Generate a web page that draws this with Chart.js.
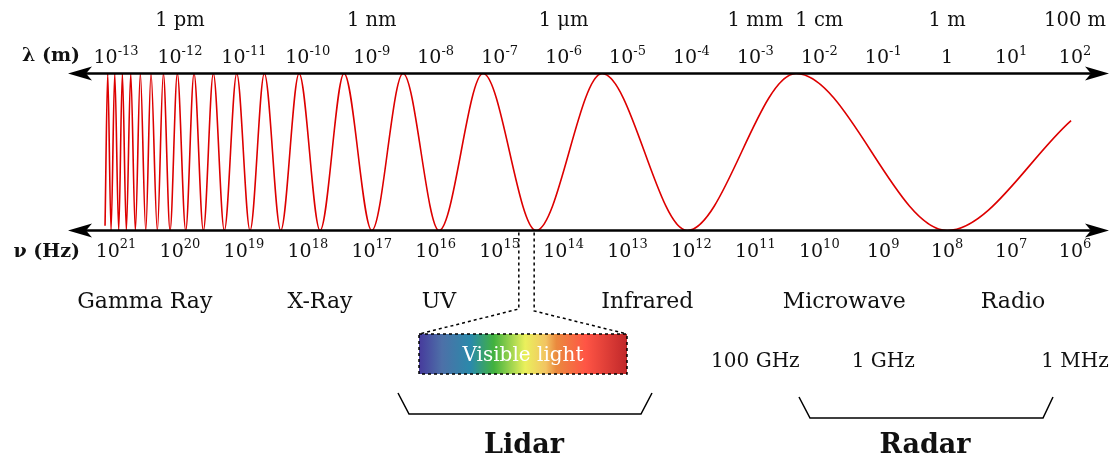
<!DOCTYPE html>
<html>
<head>
<meta charset="utf-8">
<script src="https://cdn.jsdelivr.net/npm/chart.js"></script>
<style>
  body { margin: 0; background: #fff; }
  canvas { display: block; }
</style>
</head>
<body>
<canvas id="spectrum" width="1116" height="457"></canvas>
<script>
// x axis = decades of wavelength (log10 of metres)
const lambdaExp = [-13, -12, -11, -10, -9, -8, -7, -6, -5, -4, -3, -2, -1, 0, 1, 2];
const nuExp = [21, 20, 19, 18, 17, 16, 15, 14, 13, 12, 11, 10, 9, 8, 7, 6];

const unitNames = ["1 pm", "1 nm", "1 μm", "1 mm", "1 cm", "1 m", "100 m"];
const unitAt = [-12, -9, -6, -3, -2, 0, 2];

const bandNames = ["Gamma Ray", "X-Ray", "UV", "Infrared", "Microwave", "Radio"];
const bandAt = [-12.55, -9.81, -7.95, -4.69, -1.61, 1.03];

const freqNames = ["100 GHz", "1 GHz", "1 MHz"];
const freqExp = [11, 9, 6];

// visible band cut out of the axis
const visibleFrom = -6.70;
const visibleTo = -6.46;

// wave: start, crests/troughs, end
const waveX = [-13.172, -13.130, -13.078, -13.020, -12.958, -12.901, -12.839, -12.770,
  -12.698, -12.620, -12.535, -12.453, -12.354, -12.260, -12.155, -12.041, -11.910,
  -11.780, -11.634, -11.478, -11.306, -11.112, -10.904, -10.680, -10.424, -10.137,
  -9.809, -9.434, -9.000, -8.511, -7.948, -7.259, -6.430, -5.398, -4.068, -2.363,
  0.000, 1.938];
const waveY = [-0.94, 1, -1, 1, -1, 1, -1, 1,
  -1, 1, -1, 1, -1, 1, -1, 1, -1,
  1, -1, 1, -1, 1, -1, 1, -1, 1,
  -1, 1, -1, 1, -1, 1, -1, 1, -1, 1,
  -1, 0.40];

const SERIF = '"DejaVu Serif", serif';

// 10 with superscript, centred on cx
function drawPow(ctx, exp, cx, base, raise) {
  if (exp === 0) {
    ctx.font = "19px " + SERIF;
    ctx.textAlign = "center";
    ctx.fillText("1", cx, base);
    return;
  }
  ctx.textAlign = "left";
  ctx.font = "19px " + SERIF;
  const w1 = ctx.measureText("10").width;
  ctx.font = "13px " + SERIF;
  const sup = String(exp);
  const w2 = ctx.measureText(sup).width;
  const x0 = cx - (w1 + w2) / 2;
  ctx.font = "19px " + SERIF;
  ctx.fillText("10", x0, base);
  ctx.font = "13px " + SERIF;
  ctx.fillText(sup, x0 + w1, base - raise);
}

function arrowLine(ctx, x1, x2, y) {
  ctx.strokeStyle = "#000";
  ctx.fillStyle = "#000";
  ctx.lineWidth = 2.5;
  ctx.beginPath();
  ctx.moveTo(x1 + 8, y);
  ctx.lineTo(x2 - 8, y);
  ctx.stroke();
  // barbed heads
  ctx.beginPath();
  ctx.moveTo(x1 - 2, y);
  ctx.lineTo(x1 + 22, y - 7);
  ctx.lineTo(x1 + 16, y);
  ctx.lineTo(x1 + 22, y + 7);
  ctx.closePath();
  ctx.fill();
  ctx.beginPath();
  ctx.moveTo(x2 + 2, y);
  ctx.lineTo(x2 - 22, y - 7);
  ctx.lineTo(x2 - 16, y);
  ctx.lineTo(x2 - 22, y + 7);
  ctx.closePath();
  ctx.fill();
}

const decor = {
  id: "decor",
  afterDatasetsDraw(chart) {
    const ctx = chart.ctx;
    const xs = chart.scales.x;
    const a = chart.chartArea;
    ctx.save();

    arrowLine(ctx, a.left, a.right, a.top);
    arrowLine(ctx, a.left, a.right, a.bottom);

    ctx.fillStyle = "#111";
    ctx.textBaseline = "alphabetic";

    // axis names
    ctx.font = "bold 19px " + SERIF;
    ctx.textAlign = "right";
    ctx.fillText("λ (m)", 80, 61);
    ctx.fillText("ν (Hz)", 80, 257);

    lambdaExp.forEach(e => drawPow(ctx, e, xs.getPixelForValue(e), 63, 8));
    nuExp.forEach(n => drawPow(ctx, n, xs.getPixelForValue(8 - n), 257, 9));

    ctx.font = "19.5px " + SERIF;
    ctx.textAlign = "center";
    unitNames.forEach((t, i) => ctx.fillText(t, xs.getPixelForValue(unitAt[i]), 26));

    ctx.font = "22px " + SERIF;
    bandNames.forEach((t, i) => ctx.fillText(t, xs.getPixelForValue(bandAt[i]), 308));

    ctx.font = "20px " + SERIF;
    freqNames.forEach((t, i) => ctx.fillText(t, xs.getPixelForValue(8 - freqExp[i]), 367));

    // visible light box
    const bx = 419, by = 334, bw = 208, bh = 40;
    const g = ctx.createLinearGradient(bx, 0, bx + bw, 0);
    g.addColorStop(0.00, "#463a9c");
    g.addColorStop(0.11, "#4d70a8");
    g.addColorStop(0.25, "#2a8aaa");
    g.addColorStop(0.36, "#42b23e");
    g.addColorStop(0.51, "#eaf05c");
    g.addColorStop(0.61, "#f2c462");
    g.addColorStop(0.66, "#ea8a3e");
    g.addColorStop(0.80, "#ff5545");
    g.addColorStop(1.00, "#c0282a");
    ctx.fillStyle = g;
    ctx.fillRect(bx, by, bw, bh);

    ctx.strokeStyle = "#000";
    ctx.lineWidth = 1.5;
    ctx.setLineDash([3, 3]);
    ctx.strokeRect(bx, by, bw, bh);

    const v1 = xs.getPixelForValue(visibleFrom);
    const v2 = xs.getPixelForValue(visibleTo);
    ctx.beginPath();
    ctx.moveTo(v1, a.bottom + 2);
    ctx.lineTo(v1, 309);
    ctx.lineTo(bx, by);
    ctx.moveTo(v2, a.bottom + 2);
    ctx.lineTo(v2, 311);
    ctx.lineTo(bx + bw, by);
    ctx.stroke();
    ctx.setLineDash([]);

    ctx.fillStyle = "#fff";
    ctx.font = "20px " + SERIF;
    ctx.textAlign = "center";
    ctx.fillText("Visible light", 523, 361);

    // brackets
    ctx.strokeStyle = "#000";
    ctx.lineWidth = 1.5;
    ctx.beginPath();
    ctx.moveTo(398, 393); ctx.lineTo(409, 414); ctx.lineTo(641, 414); ctx.lineTo(652, 393);
    ctx.moveTo(799, 397); ctx.lineTo(810, 418); ctx.lineTo(1043, 418); ctx.lineTo(1053, 397);
    ctx.stroke();

    ctx.fillStyle = "#111";
    ctx.font = "bold 27px " + SERIF;
    ctx.fillText("Lidar", 524, 453);
    ctx.fillText("Radar", 925, 453);

    ctx.restore();
  }
};

new Chart(document.getElementById("spectrum"), {
  type: "line",
  data: {
    datasets: [{
      data: waveX.map((x, i) => ({ x: x, y: waveY[i] })),
      borderColor: "#dd0000",
      borderWidth: 1.6,
      pointRadius: 0,
      cubicInterpolationMode: "monotone",
      fill: false
    }]
  },
  options: {
    responsive: false,
    devicePixelRatio: 1,
    animation: false,
    layout: { padding: { left: 70, right: 9, top: 73.5, bottom: 226.5 } },
    plugins: { legend: { display: false }, tooltip: { enabled: false } },
    scales: {
      x: { type: "linear", min: -13.72, max: 2.5, display: false },
      y: { min: -1, max: 1, display: false }
    }
  },
  plugins: [decor]
});
</script>
</body>
</html>
